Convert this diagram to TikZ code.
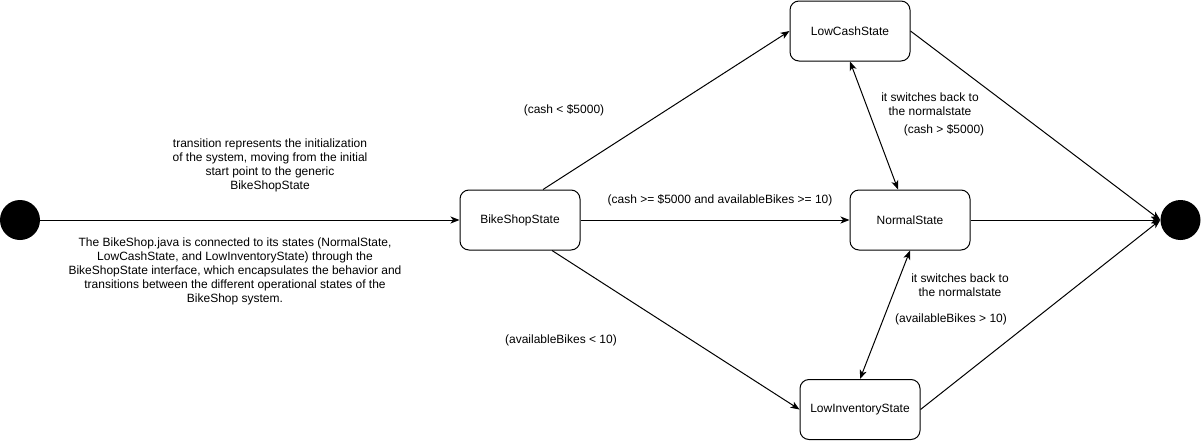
\documentclass[tikz,border=0pt]{standalone}
\usepackage{fontspec}
\setmainfont{Liberation Sans}
\usetikzlibrary{arrows.meta,calc}
\tikzset{
  statebox/.style={draw=black, line width=1pt, rounded corners=9pt, minimum width=120pt, minimum height=60pt, inner sep=0pt, font=\fontsize{12}{14}\selectfont},
  pseudo/.style={circle, fill=black, draw=none, minimum size=40pt, inner sep=0pt},
  lbl/.style={align=center, inner sep=0pt, font=\fontsize{12}{14}\selectfont},
  conn/.style={draw=black, line width=1pt, -{Stealth[length=9pt,width=7pt,inset=2.5pt]}},
  bconn/.style={draw=black, line width=1pt, {Stealth[length=9pt,width=7pt,inset=2.5pt]}-{Stealth[length=9pt,width=7pt,inset=2.5pt]}},
}
\begin{document}
\begin{tikzpicture}[x=1pt,y=-1pt]
\useasboundingbox (0,0) rectangle (1202,442);
% nodes
\node[pseudo] (start) at (20,220) {};
\node[pseudo] (end) at (1180.5,220) {};
\node[statebox] (bike) at (520,220) {BikeShopState};
\node[statebox] (normal) at (910,220) {NormalState};
\node[statebox] (lowcash) at (850,31) {LowCashState};
\node[statebox] (lowinv) at (860,409.5) {LowInventoryState};
% labels
\node[lbl] (l1) at (270,165) {transition represents the initialization\\of the system, moving from the initial\\start point to the generic\\BikeShopState};
\node[lbl] (l2) at (235,271) {The BikeShop.java is connected to its states (NormalState,\\LowCashState, and LowInventoryState) through the\\BikeShopState interface, which encapsulates the behavior and\\transitions between the different operational states of the\\BikeShop system.};
\node[lbl] (l3) at (564,110) {(cash < \$5000)};
\node[lbl] (l4) at (720,200) {(cash >= \$5000 and availableBikes >= 10)};
\node[lbl] (l5) at (561,340) {(availableBikes < 10)};
\node[lbl] (l6) at (930,104.5) {it switches back to\\the normalstate};
\node[lbl] (l7) at (944,130) {(cash > \$5000)};
\node[lbl] (l8) at (960,285) {it switches back to\\the normalstate};
\node[lbl] (l9) at (951,319) {(availableBikes > 10)};
% connectors
\draw[conn] (start.east) -- (bike.west);
\draw[conn] ([xshift=23pt]bike.north) -- (lowcash.west);
\draw[conn] (bike.east) -- (normal.west);
\draw[conn] ([xshift=32pt]bike.south) -- (lowinv.west);
\draw[bconn] (lowcash.south) -- ([xshift=-12pt]normal.north);
\draw[bconn] (normal.south) -- (lowinv.north);
\draw[conn] (lowcash.east) -- (end.west);
\draw[conn] (normal.east) -- (end.west);
\draw[conn] (lowinv.east) -- (end.west);
\end{tikzpicture}
\end{document}
